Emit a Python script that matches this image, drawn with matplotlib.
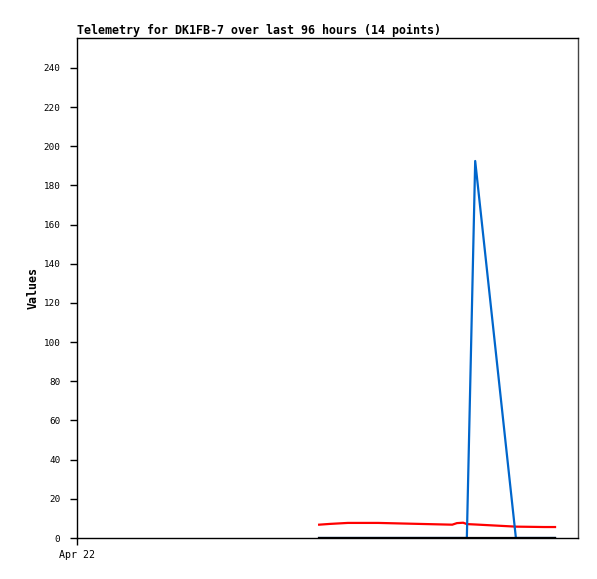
import matplotlib
matplotlib.use("Agg")
import matplotlib.pyplot as plt

# Hours since start of window (Apr 22 00:00)
hours = [46.4, 48.5, 51.9, 57.7, 65.5, 71.9, 72.8, 74.0, 74.7, 76.3, 84.1, 87.0, 89.5, 91.6]
red_vals = [6.8, 7.2, 7.7, 7.7, 7.2, 6.8, 7.6, 7.8, 7.1, 6.9, 5.8, 5.7, 5.6, 5.6]
blue_vals = [0, 0, 0, 0, 0, 0, 0, 0, 0, 192.5, 0, 0, 0, 0]
black_vals = [0, 0, 0, 0, 0, 0, 0, 0, 0, 0, 0, 0, 0, 0]
yticks = [0, 20, 40, 60, 80, 100, 120, 140, 160, 180, 200, 220, 240]
xtick_pos = [0]
xtick_labels = ["Apr 22"]

W, H = 597, 579
fig = plt.figure(figsize=(W / 100, H / 100), dpi=100)
ax = fig.add_axes([77 / W, (H - 538) / H, (578 - 77) / W, (538 - 38) / H])

ax.plot(hours, red_vals, color="#ff0000", lw=1.6, solid_joinstyle="miter")
ax.plot(hours, blue_vals, color="#0066cc", lw=1.6)
ax.plot(hours, black_vals, color="#000000", lw=1.6)

ax.set_xlim(0, 96)
ax.set_ylim(0, 255.3)
ax.set_yticks(yticks)
ax.set_yticklabels([str(v) for v in yticks], family="DejaVu Sans Mono", fontsize=6.7)
ax.set_xticks(xtick_pos)
ax.set_xticklabels(xtick_labels, family="DejaVu Sans Mono", fontsize=7.2)
ax.tick_params(axis="both", direction="out", length=5, width=1, color="black")
ax.tick_params(axis="y", pad=7)
ax.tick_params(axis="x", pad=4)

for side in ["left", "bottom", "top"]:
    ax.spines[side].set_color("black")
    ax.spines[side].set_linewidth(1)
ax.spines["right"].set_color("#444444")
ax.spines["right"].set_linewidth(1)

ax.set_title("Telemetry for DK1FB-7 over last 96 hours (14 points)", loc="left",
             family="DejaVu Sans Mono", fontweight="bold", fontsize=8.4, pad=3)
ax.set_ylabel("Values", family="DejaVu Sans Mono", fontweight="bold", fontsize=8.4, labelpad=3)

fig.savefig("out.png", dpi=100, facecolor="white")
